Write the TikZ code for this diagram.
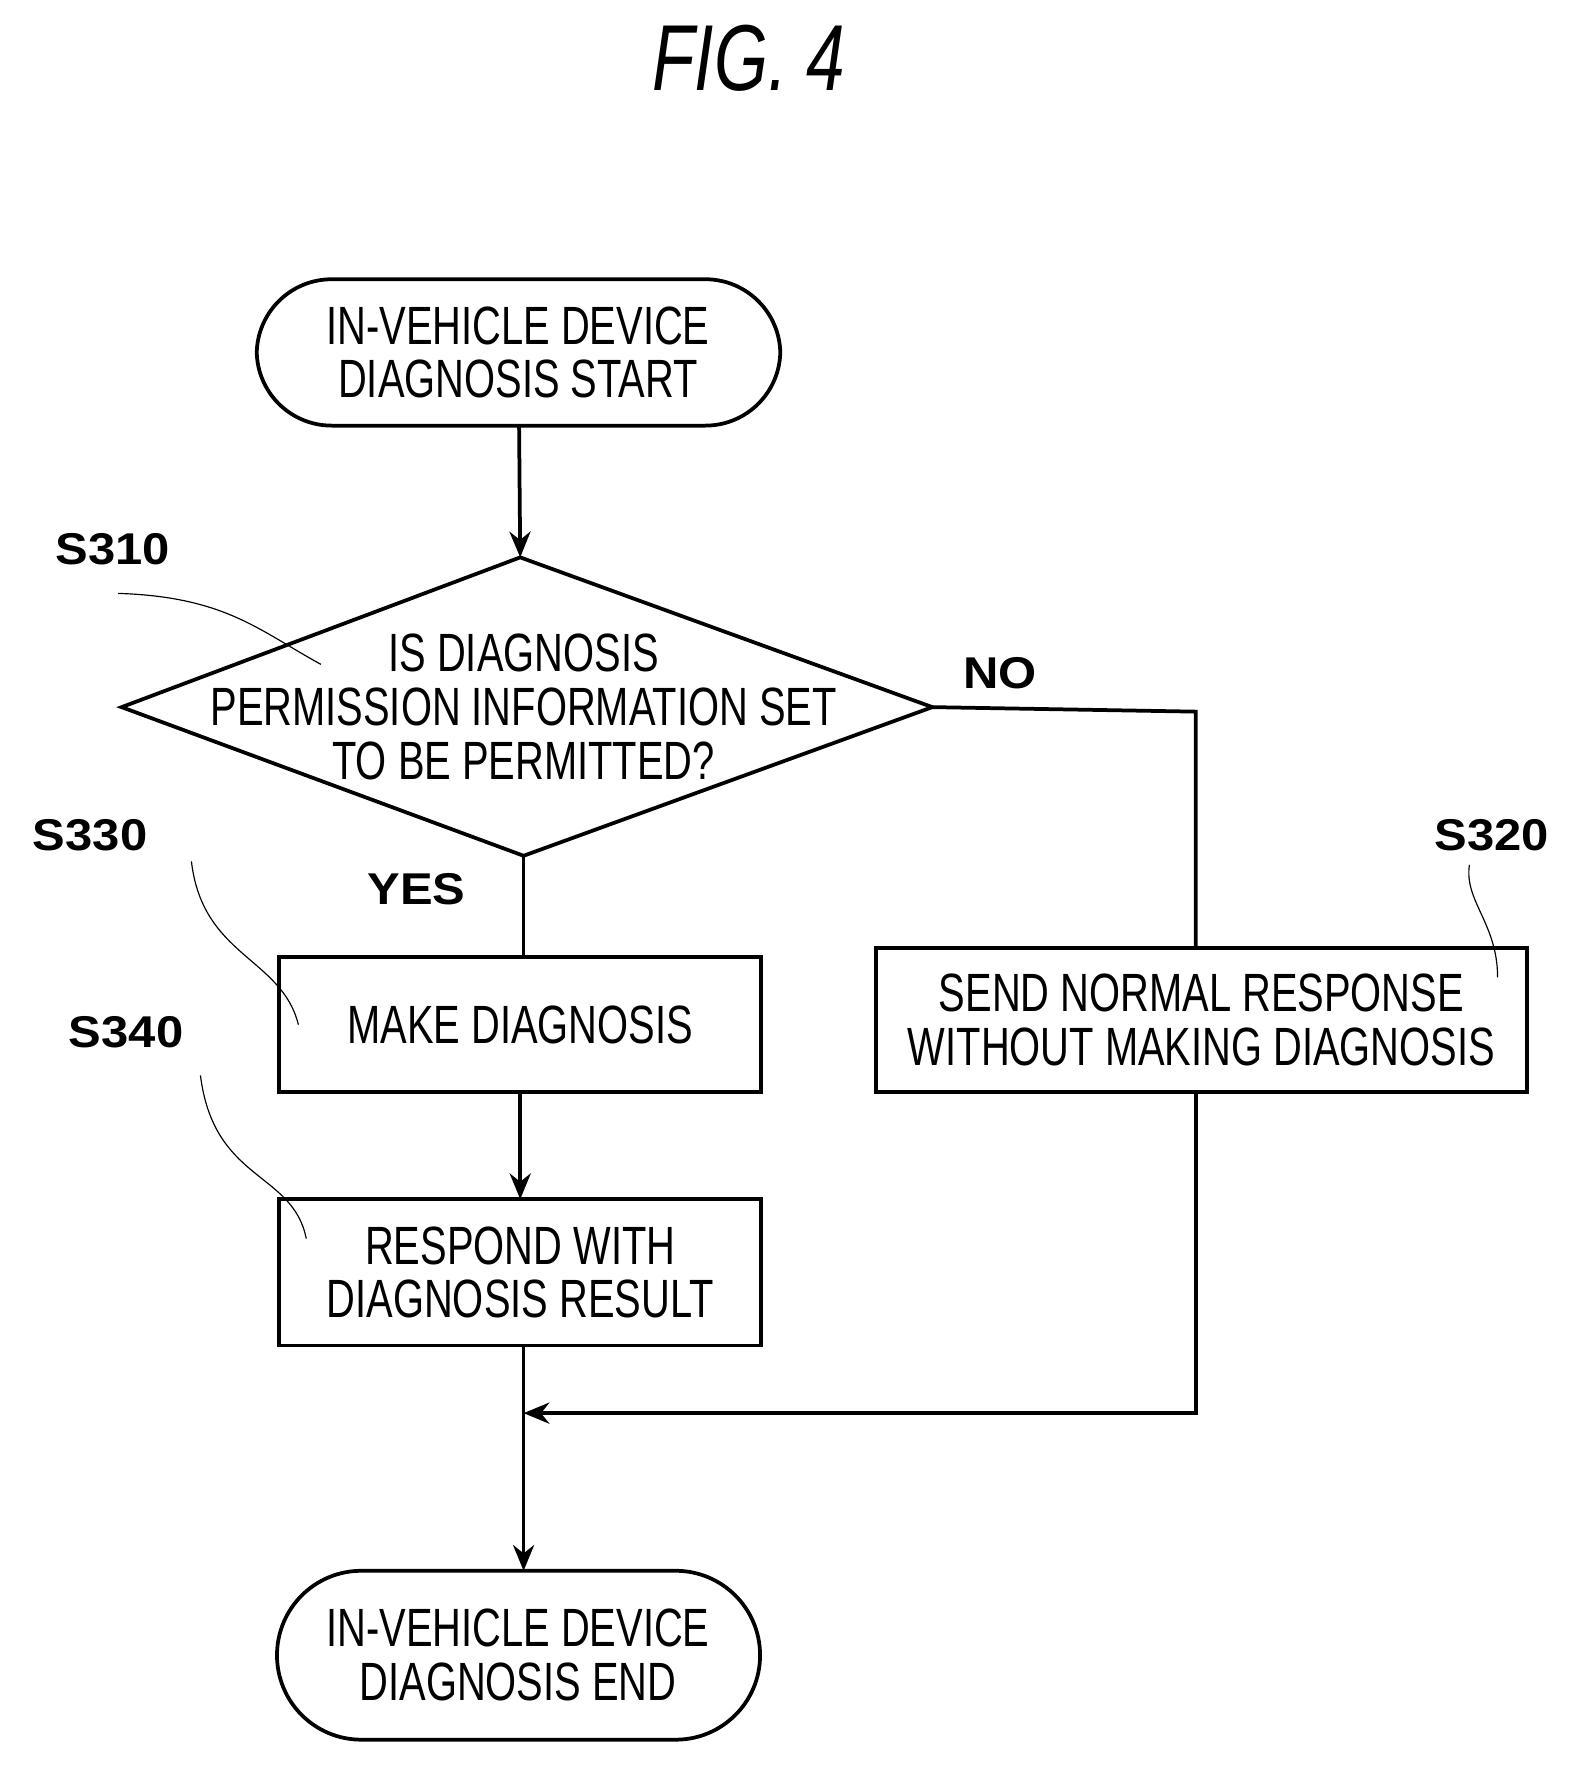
\documentclass[tikz,border=0pt]{standalone}
\usepackage{fontspec}
\setmainfont{Liberation Sans}[FakeStretch=0.74]
\newfontfamily\lblfont{Liberation Sans}[FakeStretch=1.1]
\usetikzlibrary{shapes.geometric,arrows.meta}
\begin{document}
\begin{tikzpicture}[x=0.03378cm,y=-0.03378cm,
  every node/.style={font=\fontsize{46}{46}\selectfont, align=center},
  ln/.style={line width=3.2pt},
  arr/.style={ln,-{Stealth[length=22pt,width=18pt]}},
  box/.style={draw,ln,rectangle,inner sep=0pt},
  lbl/.style={font=\lblfont\bfseries\fontsize{38}{40}\selectfont},
  lead/.style={line width=1pt}]
\useasboundingbox (0,0) rectangle (1410,1574.6);
\node[font=\itshape\fontsize{80}{84}\selectfont] (title) at (665,52) {FIG. 4};
\path[draw,ln,rounded corners=64] (228,248) rectangle (693,378);
\node (start) at (460,313) {IN-VEHICLE DEVICE\\DIAGNOSIS START};
\coordinate (dt) at (462,495);\coordinate (dl) at (108,628);\coordinate (dr) at (828,628);\coordinate (db) at (465,760);
\draw[ln] (dt) -- (dr) -- (db) -- (dl) -- cycle;
\node (dtext) at (465,628) {IS DIAGNOSIS\\PERMISSION INFORMATION SET\\TO BE PERMITTED?};
\draw[arr] (461,378) -- (dt);
\draw[box] (248,850) rectangle (676,970);
\node (make) at (462,910) {MAKE DIAGNOSIS};
\draw[box] (248,1065) rectangle (676,1195);
\node (resp) at (462,1130) {RESPOND WITH\\DIAGNOSIS RESULT};
\draw[box] (778,842) rectangle (1356,970);
\node (send) at (1067,906) {SEND NORMAL RESPONSE\\WITHOUT MAKING DIAGNOSIS};
\draw[ln] (db) -- (465,850);
\draw[arr] (462,970) -- (462,1065);
\draw[arr] (465,1195) -- (465,1395);
\draw[ln] (dr) -- (1062,632) -- (1062,842);
\coordinate (mj) at (465,1255);
\draw[arr] (1062,970) -- (1062,1255) -- (mj);
\path[draw,ln,rounded corners=72] (246,1395) rectangle (675,1545);
\node (endt) at (460,1470) {IN-VEHICLE DEVICE\\DIAGNOSIS END};
\node[lbl] (no) at (888,598) {NO};
\node[lbl] (yes) at (370,790) {YES};
\node[lbl] (s310) at (100,488) {S310};
\node[lbl] (s330) at (80,742) {S330};
\node[lbl] (s340) at (112,917) {S340};
\node[lbl] (s320) at (1325,742) {S320};
\draw[lead] (105,527) .. controls (200,530) and (230,560) .. (285,590);
\draw[lead] (170,765) .. controls (180,850) and (250,850) .. (265,910);
\draw[lead] (178,955) .. controls (190,1050) and (260,1040) .. (272,1100);
\draw[lead] (1305,768) .. controls (1300,800) and (1330,820) .. (1330,868);
\end{tikzpicture}
\end{document}
